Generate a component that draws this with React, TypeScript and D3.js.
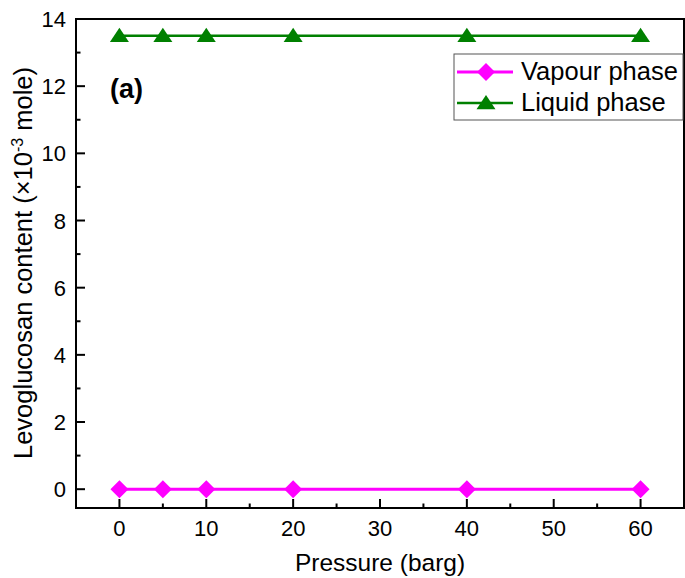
import React from "react";
import * as d3 from "d3";

const pressures = [0, 5, 10, 20, 40, 60];
const vapour = [0, 0, 0, 0, 0, 0];
const liquid = [13.5, 13.5, 13.5, 13.5, 13.5, 13.5];
const xTicks = [0, 10, 20, 30, 40, 50, 60];
const xMinor = [5, 15, 25, 35, 45, 55];
const yTicks = [0, 2, 4, 6, 8, 10, 12, 14];
const yMinor = [1, 3, 5, 7, 9, 11, 13];

const W = 685, H = 578;
const L = 76, R = 684, T = 19, B = 508;

export default function App() {
  const x = d3.scaleLinear().domain([-5, 65]).range([L, R]);
  const y = d3.scaleLinear().domain([-0.56, 14]).range([B, T]);
  const line = d3.line<number>().x((_, i) => x(pressures[i])).y((d) => y(d));
  const font = "'Liberation Sans', Arial, sans-serif";
  const tri = (cx: number, cy: number, s = 9.5) =>
    `M${cx},${cy - s * 0.85}L${cx + s},${cy + s * 0.65}L${cx - s},${cy + s * 0.65}Z`;
  const dia = (cx: number, cy: number, s = 9) =>
    `M${cx},${cy - s}L${cx + s},${cy}L${cx},${cy + s}L${cx - s},${cy}Z`;
  return (
    <svg width={W} height={H} style={{ position: "absolute", left: 0, top: 0, background: "#fff" }} fontFamily={font}>
      <rect x={0} y={0} width={W} height={H} fill="#fff" />
      {/* series */}
      <path d={line(vapour) || ""} fill="none" stroke="#FF00FF" strokeWidth={3} />
      {vapour.map((v, i) => (
        <path key={"v" + i} d={dia(x(pressures[i]), y(v))} fill="#FF00FF" />
      ))}
      <path d={line(liquid) || ""} fill="none" stroke="#008000" strokeWidth={2.5} />
      {liquid.map((v, i) => (
        <path key={"l" + i} d={tri(x(pressures[i]), y(v))} fill="#008000" />
      ))}
      {/* frame */}
      <rect x={L} y={T} width={R - L} height={B - T} fill="none" stroke="#000" strokeWidth={2} />
      {/* x ticks */}
      {xTicks.map((t) => (
        <g key={"xt" + t}>
          <line x1={x(t)} x2={x(t)} y1={B} y2={B - 9} stroke="#000" strokeWidth={2} />
          <text x={x(t)} y={536} fontSize={22} textAnchor="middle">{t}</text>
        </g>
      ))}
      {xMinor.map((t) => (
        <line key={"xm" + t} x1={x(t)} x2={x(t)} y1={B} y2={B - 4.5} stroke="#000" strokeWidth={2} />
      ))}
      {/* y ticks */}
      {yTicks.map((t) => (
        <g key={"yt" + t}>
          <line x1={L} x2={L + 9} y1={y(t)} y2={y(t)} stroke="#000" strokeWidth={2} />
          <text x={66} y={y(t) + 8} fontSize={22} textAnchor="end">{t}</text>
        </g>
      ))}
      {yMinor.map((t) => (
        <line key={"ym" + t} x1={L} x2={L + 4.5} y1={y(t)} y2={y(t)} stroke="#000" strokeWidth={2} />
      ))}
      {/* axis titles */}
      <text x={380} y={571} fontSize={24.5} textAnchor="middle">Pressure (barg)</text>
      <text transform={`translate(32,263) rotate(-90)`} fontSize={25.5} textAnchor="middle">
        Levoglucosan content (×10<tspan dy={-9} fontSize={16}>-3</tspan><tspan dy={9}> mole)</tspan>
      </text>
      <text x={110} y={98} fontSize={27} fontWeight="bold">(a)</text>
      {/* legend */}
      <rect x={454} y={54} width={229} height={66} fill="#fff" stroke="#555" strokeWidth={1} />
      <line x1={457} x2={513} y1={72} y2={72} stroke="#FF00FF" strokeWidth={3} />
      <path d={dia(486, 72)} fill="#FF00FF" />
      <text x={521} y={80} fontSize={25.5}>Vapour phase</text>
      <line x1={457} x2={513} y1={103} y2={103} stroke="#008000" strokeWidth={2.5} />
      <path d={tri(486, 103)} fill="#008000" />
      <text x={521} y={111} fontSize={25.5}>Liquid phase</text>
    </svg>
  );
}
